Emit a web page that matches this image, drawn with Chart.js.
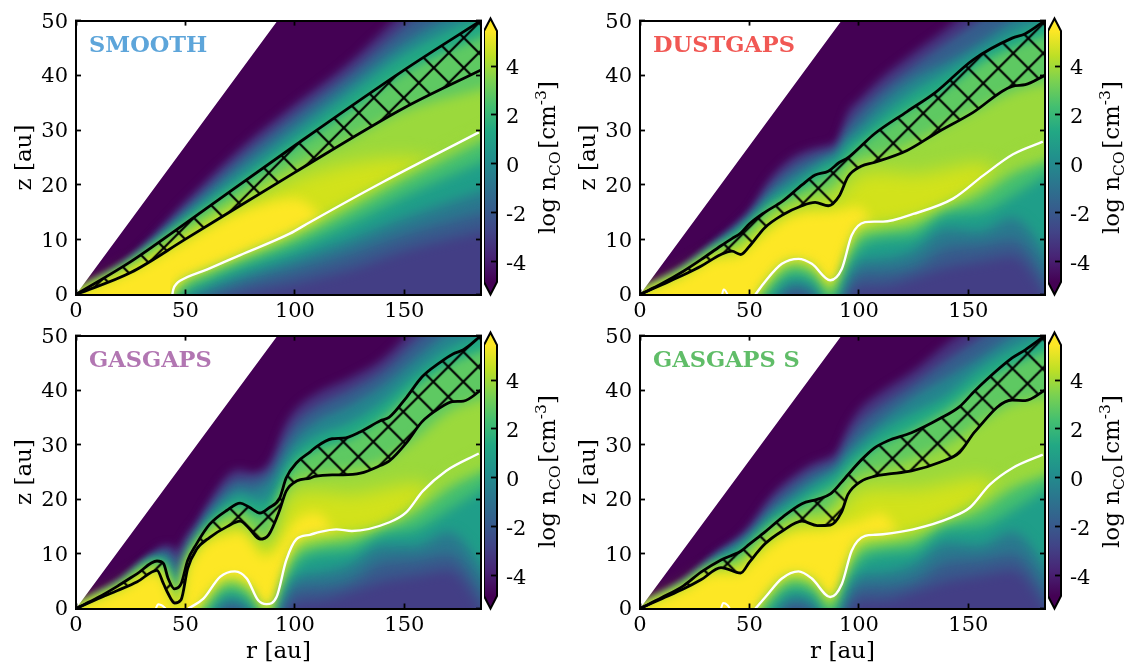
<!DOCTYPE html>
<html>
<head>
<meta charset="utf-8">
<title>CO number density</title>
<script src="https://cdn.jsdelivr.net/npm/chart.js@4"></script>
<style>
  html, body { margin: 0; padding: 0; background: #fff; }
  #page { position: relative; width: 1128px; height: 666px; overflow: hidden; }
  canvas { position: absolute; }
</style>
</head>
<body>
<div id="page"></div>
<script>
// axes
const xTicks = [0, 50, 100, 150];
const zTicks = [0, 10, 20, 30, 40, 50];
const cbTicks = [-4, -2, 0, 2, 4];
const cbRange = [-4.82, 5.43];

// disc surface, white above it
const wedgeR = [0, 130];
const wedgeZ = [0, 70.6];

// SMOOTH: contour heights, upper side of the CO layer then lower side
const smoothUpperR = [0, 25, 50, 75, 100, 125, 150, 190];
const smoothUpper = [
  [0, 6.6, 17, 26.7, 34.8, 42.5, 52, 66],
  [0, 6.4, 15.8, 25, 33, 40.5, 49, 61],
  [0, 6.2, 14.8, 23.3, 31, 38.5, 46, 55],
  [0, 6, 14.1, 21.5, 29, 36.5, 43.8, 52],
  [0, 5.7, 13, 19.8, 26.8, 33.5, 40.5, 48],
  [0, 5, 11.3, 17.5, 23.5, 28.5, 33.5, 38],
  [0, 4.5, 10.2, 15.8, 21, 24, 25, 20],
  [0, 4, 9.6, 15, 17.5, 8, -2, -2]
];
const smoothLowerR = [43, 47, 50, 60, 75, 100, 125, 150, 190];
const smoothLower = [
  [-1, 2.2, 2.9, 4.6, 7.2, 11.5, 17, 22.5, 31],
  [-2, 0.3, 1.7, 3.6, 6, 10.2, 15.5, 21, 29],
  [-3, -1, 0.3, 2.3, 5, 8.5, 13, 18, 25],
  [-4, -2, -1, 1, 3.3, 6.5, 10, 14, 19.5],
  [-5, -3, -2.5, -0.5, 1.8, 4.5, 7.5, 11, 15.5],
  [-6, -5, -4, -2, 0, 2, 4.5, 8, 12]
];
const smoothHatchR = [0, 25, 50, 100, 150, 185];
const smoothHatchTop = [0, 6, 13, 27.2, 41, 50];
const smoothHatchLow = [0, 4, 10.1, 22.3, 34.1, 41];
const smoothWhiteR = [44, 44.5, 46, 47.5, 60, 75, 97.6, 106.8, 140, 184];
const smoothWhiteZ = [0, 1, 2, 2.5, 4.6, 7.2, 11.1, 13.2, 20.5, 29.6];

// DUSTGAPS
const gapUpperR = [0, 20, 35, 45, 50, 60, 70, 80, 85, 90, 95, 100, 110, 125, 140, 155, 170, 190];
const dustUpper = [
  [0, 5, 9.8, 13.2, 15.3, 21.5, 25.2, 26.8, 27.2, 28.2, 33.5, 35.6, 39.5, 44.2, 48.6, 54, 60, 68],
  [0, 4.7, 9.4, 12.6, 14.5, 20, 23.5, 25.5, 26, 27, 31, 33.5, 37.3, 41.8, 46, 50, 54, 60],
  [0, 4.5, 9.2, 12.2, 14, 18.5, 21.7, 24, 25, 26, 29, 31, 35, 39.5, 42.5, 46, 50, 55],
  [0, 4.4, 9, 11.8, 13.6, 17.4, 20, 22.8, 24, 25, 27.5, 29, 32.5, 37, 40.5, 44, 47.5, 51],
  [0, 4.1, 8.4, 10.8, 12.5, 16, 18.2, 21, 22, 23, 25, 27, 30, 34.2, 37.5, 42, 45, 48],
  [0, 3.8, 7.7, 9, 10.5, 14.5, 16.8, 18.5, 19, 20, 23, 24.5, 25.5, 28, 31, 34, 37, 39],
  [0, 3.5, 6.9, 7.8, 9.2, 12.8, 15.2, 16.2, 16.2, 17.5, 20, 21.8, 22.5, 22, 23, 24, 20, 15],
  [0, 3.3, 6.5, 7, 8.5, 12, 14.3, 15, 15, 15.3, 15.7, 16, 10, 6, -2, -2, -2, -2]
];
const dustHatchR = [0, 10, 20, 28, 37, 42, 46, 50, 57, 65, 74, 80, 86, 91, 95, 101, 107, 122, 135, 152, 170, 176, 185];
const dustHatchTop = [0, 2, 4.3, 6.4, 8.9, 10.2, 11.2, 12.9, 15, 17, 20, 21.8, 22.5, 24.1, 25, 27.1, 29.3, 33.4, 36.9, 42.8, 46.8, 47.6, 50];
const dustHatchLow = [0, 1.8, 3.6, 5.2, 7.3, 7.9, 7.3, 8.8, 12.2, 14.5, 16.2, 16.8, 16.2, 18, 21.5, 23.4, 24.1, 26.3, 29.4, 33.2, 38, 38.3, 40];
const dustWhiteR = [52.7, 57, 64.8, 72.4, 78.5, 86.9, 92.2, 96.7, 102.8, 107, 111, 124.8, 143, 156.7, 170.4, 184];
const dustWhiteZ = [0, 2.3, 5.6, 6.5, 5.6, 2.6, 4.7, 10.8, 13.2, 13.3, 13.3, 14.7, 17.5, 21.7, 25.6, 27.9];
const dustBlobR = [37.5, 38.2, 39, 40];
const dustBlobZ = [0, 0.9, 0.7, 0];

// lower contours, nearly the same in DUSTGAPS and GASGAPS S
const gapLowerR = [48, 60, 70, 80, 85, 90, 95, 100, 110, 125, 140, 155, 170, 190];
const gapLower = [
  [-4, 3.6, 6.3, 4.9, 2.2, 3, 8.3, 12.4, 13.3, 14.4, 16.8, 20.5, 25.3, 28.5],
  [-5, 1.8, 5, 3.4, 0.5, 1.2, 6.2, 10.3, 11.5, 12.5, 15.5, 18, 22, 25],
  [-6, 0.4, 3.6, 1.9, -1.4, -0.6, 4.6, 8.2, 10, 10.5, 14.5, 15, 18, 23],
  [-7, -1.8, 2, 0.4, -3.4, -2.6, 2.6, 6, 6.5, 8, 12, 11.5, 14, 5],
  [-8, -4, 0.8, -1.2, -5.6, -4.8, 0.8, 3.8, 4, 5, 8.5, 9, 10, 0.5],
  [-9, -6, -0.8, -3.4, -8, -7, -1.2, 1.4, 1.5, 3, 5, 6, 7, -3]
];

// GASGAPS
const gasUpperR = [0, 20, 37, 41, 43, 46, 48, 51, 55, 60, 70, 75, 80, 85, 90, 95, 100, 110, 125, 140, 155, 170, 190];
const gasUpper = [
  [0, 5, 10.8, 11.6, 11.6, 10.7, 11.7, 13.8, 15.8, 19.2, 24.8, 25.5, 25, 25.4, 28, 33.3, 36.4, 39.5, 42.3, 45.8, 52, 59, 67],
  [0, 4.7, 10.1, 10.8, 10.3, 9, 9.8, 12.3, 14.6, 17.8, 23, 23.8, 23.8, 24.3, 26, 30.5, 33.8, 37, 40, 43.5, 49, 54, 60],
  [0, 4.5, 9.7, 9.8, 8.4, 6.8, 7.5, 10.8, 13.6, 16.8, 21.2, 22.2, 21.8, 22.5, 24.3, 28, 31, 34.3, 37.2, 40.8, 45.8, 50.5, 55],
  [0, 4.4, 9.2, 9, 7, 5, 5.5, 9.6, 12.8, 15.9, 19.7, 20.6, 20, 19.6, 21.5, 25.6, 28.6, 31.6, 34, 37.8, 43, 47.5, 51],
  [0, 4.1, 8.5, 7.8, 5.3, 3.5, 4, 8.2, 11.8, 14.7, 18.2, 18.6, 17.5, 17, 18.6, 23, 26.4, 29, 31, 35, 40.5, 44.5, 48],
  [0, 3.7, 7.5, 5.5, 3, 1, 1.5, 7.5, 10.8, 13.5, 16, 16.5, 14.5, 13, 14, 20, 23.5, 24.6, 25.5, 27, 31, 36, 39],
  [0, 3.4, 7, 4.5, 2, 0, 0.5, 7, 10.2, 12.6, 14.8, 15.4, 13, 11.2, 11.5, 18, 21, 21.5, 21, 22, 23, 19, 14],
  [0, 3.2, 6.6, 4, 1.5, -1, -0.5, 6.6, 9.8, 12, 13.5, 14, 12, 9.5, 10, 13, 16, 17.5, 8, -2, -2, -2, -2]
];
const gasLower = [
  [-5, 2.2, 5.6, 3.8, 0.6, 1, 6.5, 11.5, 13.5, 14, 15.3, 19.5, 25, 29],
  [-6, 0.4, 4.4, 2.2, -1.2, -1, 4.5, 9.5, 11.5, 12.5, 14.5, 17.5, 22, 26],
  [-7, -1, 3, 0.7, -3, -3, 3, 7.5, 10, 10.5, 13.5, 14.5, 18, 23],
  [-8, -3, 1.6, -0.8, -5, -5, 1.4, 5.5, 6.5, 8, 11.5, 11.5, 14, 5],
  [-9, -5, 0.4, -2.2, -7, -7, 0, 3.5, 4, 5, 8.5, 9, 10, 0.5],
  [-10, -7, -1, -4, -9, -9, -2, 1, 1.5, 3, 5, 6, 7, -3]
];
const gasHatchR = [0, 10, 19, 28, 37, 40, 42, 45, 48, 51, 55, 61, 69, 75, 79, 84, 88, 93, 96, 101, 107, 109, 117, 122, 130, 139, 143, 151, 158, 166, 172, 177, 185];
const gasHatchTop = [0, 2, 4.1, 6.4, 8.7, 8.2, 5.6, 3.6, 4.5, 8.8, 11.8, 15.4, 18, 19.3, 18.6, 17.5, 18.4, 20.2, 23.9, 26.8, 28.7, 29.4, 31.1, 31.2, 32.4, 34.4, 35, 38.7, 42.4, 45, 46.6, 47.4, 50];
const gasHatchLow = [0, 1.8, 3.3, 4.9, 7, 4.5, 2.8, 1, 1.6, 7.3, 10.8, 13, 15, 16, 14.7, 12.7, 13.5, 18, 21.5, 23.4, 23.9, 24.2, 24.5, 24.5, 24.8, 26.2, 27, 30.4, 34.2, 36.7, 37.9, 38, 40];
const gasWhiteR = [51.3, 58.2, 65.8, 72.6, 78, 83.2, 87, 91.6, 96, 100.7, 106.8, 111, 119, 126, 143.2, 150.8, 158.4, 169, 184];
const gasWhiteZ = [0, 1.8, 5.8, 6.8, 5.5, 1.5, 0.8, 2.1, 8.8, 12.7, 13.5, 14, 14.5, 14.2, 15.8, 17.6, 21.5, 25.2, 28.4];
const gasBlobR = [36.5, 37.5, 39, 41];
const gasBlobZ = [0, 0.8, 0.6, 0];

// GASGAPS S
const gasSUpper = [
  [0, 5, 10.2, 13.1, 15.2, 20.7, 24.3, 26.8, 27.5, 28.8, 33.3, 36.4, 39.7, 43.6, 48.5, 53, 60, 68],
  [0, 4.7, 9.8, 12.5, 14.2, 19.3, 22.8, 25.4, 26.2, 27.3, 31, 33.8, 37.2, 41.2, 45.5, 49.5, 54, 60],
  [0, 4.5, 9.3, 11.8, 13.4, 17.7, 21, 23.8, 24.8, 26, 28.8, 31, 34.5, 38.8, 42.3, 46, 50, 55],
  [0, 4.4, 9, 11.2, 12.8, 16.8, 19.7, 22.4, 23.6, 24.9, 27.3, 29.1, 32.4, 35.8, 39, 43.8, 47.5, 51],
  [0, 4.1, 8.2, 9.8, 11.5, 15.3, 17.8, 20.5, 21.5, 22.8, 25, 27, 29.8, 33, 36.5, 41, 44.5, 48],
  [0, 3.8, 7.4, 7.9, 9.6, 13.8, 16.2, 17.5, 17.8, 19.5, 22.5, 24.2, 25.5, 27.5, 30, 34, 37.5, 39],
  [0, 3.5, 6.8, 7, 8.8, 12.4, 14.8, 15.5, 15.5, 17, 19.5, 21.5, 22, 22, 23, 24, 20, 15],
  [0, 3.3, 6.4, 6.3, 8, 11.6, 13.8, 14.2, 14.3, 15, 15.5, 16, 17.5, 8, -2, -2, -2, -2]
];
const gasSHatchR = [0, 10, 20, 28, 37, 46, 50, 57, 65, 74, 81, 87, 92, 95, 101, 107, 113, 124, 137, 146, 153, 170, 176, 185];
const gasSHatchTop = [0, 2, 4.2, 6.7, 8.9, 10.5, 11.8, 14, 16.7, 19.2, 20, 21, 23.1, 24.5, 27.2, 29.4, 30.7, 32.2, 34.8, 37, 39.9, 45.9, 47.4, 50];
const gasSHatchLow = [0, 1.8, 3.6, 5.3, 7.5, 6.5, 8.5, 11.8, 14.2, 16, 15.2, 15.3, 17.6, 20.9, 23.3, 24.2, 24.6, 25.2, 26.8, 28.6, 32.4, 38.2, 38.1, 40];
const gasSWhiteR = [52.7, 57.3, 64.8, 72.4, 78.5, 86.9, 92.2, 96.7, 102.8, 107.4, 111, 124.8, 142.3, 150.7, 159.8, 170.4, 184];
const gasSWhiteZ = [0, 2.1, 5.5, 6.8, 5.5, 2.1, 4.5, 10.6, 13.3, 13.5, 13.6, 14.5, 16.7, 18.5, 22.7, 25.8, 28.2];
const gasSBlobR = [37, 38, 40, 41];
const gasSBlobZ = [0, 1, 0.6, 0];

// colours of the contour bands (viridis)
const baseColor = "#440154";
const upperColors = ["#46337e", "#355f8d", "#25858e", "#22a884", "#5ec962", "#9bd93c", "#d2e21b", "#fde725"];
const lowerColors = ["#9bd93c", "#44bf70", "#1f9e89", "#2a788e", "#385a8c", "#433e85"];
const viridisStops = ["#440154", "#482475", "#414487", "#355f8d", "#2a788e", "#21918c", "#22a884", "#44bf70", "#7ad151", "#bddf26", "#fde725"];
// blur in px per band, thin outer bands less
const upperBlur = [4, 4, 4, 4, 4, 6, 9, 6];
const lowerBlur = 6;

const FONT = "'DejaVu Serif'";
Chart.defaults.font.family = FONT;
Chart.defaults.font.size = 21;
Chart.defaults.color = "#000";
Chart.defaults.animation = false;

const page = document.getElementById("page");

function addCanvas(left, top, w, h) {
  const c = document.createElement("canvas");
  c.width = w;
  c.height = h;
  c.style.left = left + "px";
  c.style.top = top + "px";
  c.style.width = w + "px";
  c.style.height = h + "px";
  page.appendChild(c);
  return c;
}

const toXY = (rs, zs) => rs.map((r, i) => ({ x: r, y: zs[i] }));

// cross hatch tile; the phase is given in page pixels
function hatchPattern(ctx, phase, left, top) {
  const tile = document.createElement("canvas");
  tile.width = tile.height = 30;
  const t = tile.getContext("2d");
  t.strokeStyle = "#000";
  t.lineWidth = 2.2;
  t.beginPath();
  t.moveTo(-5, -5);
  t.lineTo(35, 35);
  t.moveTo(35, -5);
  t.lineTo(-5, 35);
  t.stroke();
  const p = ctx.createPattern(tile, "repeat");
  p.setTransform(new DOMMatrix().translate(phase[0] - left, phase[1] - top));
  return p;
}

function tickGrid(len) {
  return { drawOnChartArea: false, drawTicks: true, tickLength: len, tickWidth: 1.8, tickColor: "#000", z: 1 };
}
const spine = { width: 2, color: "#000", z: 2 };

function setTicks(vals) {
  return s => { s.ticks = vals.map(v => ({ value: v })); };
}

// blur only the contour bands, they are painted first
const bandBlur = {
  id: "bandBlur",
  beforeDatasetsDraw(chart, args, opts) {
    chart.ctx.filter = "blur(" + opts.blur[chart.data.datasets.length - 1] + "px)";
  },
  afterDatasetDraw(chart, args, opts) {
    const next = opts.blur[args.index - 1];
    chart.ctx.filter = next ? "blur(" + next + "px)" : "none";
  }
};

const panelLabel = {
  id: "panelLabel",
  afterDraw(chart, args, opts) {
    const ctx = chart.ctx;
    ctx.save();
    ctx.font = "bold 22.5px " + FONT;
    ctx.fillStyle = opts.color;
    ctx.textBaseline = "middle";
    ctx.fillText(opts.text, chart.chartArea.left + 13, chart.chartArea.top + 26);
    ctx.restore();
  }
};

function drawPanel(p) {
  const W = 490, H = 356;
  const canvas = addCanvas(p.left, p.top, W, H);
  const ctx = canvas.getContext("2d");
  const datasets = [];
  const blur = [];
  const line = (rs, zs, extra, px) => {
    datasets.push(Object.assign({
      data: toXY(rs, zs), pointRadius: 0, borderWidth: 0, fill: false, cubicInterpolationMode: "monotone"
    }, extra));
    blur.push(px || 0);
  };

  if (p.blobR) line(p.blobR, p.blobZ, { borderColor: "#fff", borderWidth: 2 });
  line(p.whiteR, p.whiteZ, { borderColor: "#fff", borderWidth: 2.4 });
  line(p.hatchR, p.hatchTop, {
    borderColor: "#000", borderWidth: 2.8, fill: "+1",
    backgroundColor: hatchPattern(ctx, p.phase, p.left, p.top)
  });
  line(p.hatchR, p.hatchLow, { borderColor: "#000", borderWidth: 2.8 });
  line(wedgeR, wedgeZ, { fill: "end", backgroundColor: "#fff", cubicInterpolationMode: "default" });

  // last in the list is painted first, so the top band goes last
  for (let i = p.lower.length - 1; i >= 0; i--) {
    line(p.lowerR, p.lower[i], { fill: { value: -20 }, backgroundColor: lowerColors[i] }, lowerBlur);
  }
  for (let i = p.upper.length - 1; i >= 0; i--) {
    line(p.upperR, p.upper[i], { fill: { value: -20 }, backgroundColor: upperColors[i] }, upperBlur[i]);
  }
  line([-10, 200], [80, 80], { fill: { value: -20 }, backgroundColor: baseColor, cubicInterpolationMode: "default" });

  new Chart(canvas, {
    type: "line",
    data: { datasets },
    plugins: [bandBlur, panelLabel],
    options: {
      responsive: false,
      parsing: { xAxisKey: "x", yAxisKey: "y" },
      layout: { padding: { top: 0, right: 9, left: 0, bottom: 0 } },
      plugins: {
        legend: { display: false },
        tooltip: { enabled: false },
        bandBlur: { blur: blur },
        panelLabel: { text: p.name, color: p.color }
      },
      scales: {
        x: {
          type: "linear", position: "bottom", min: 0, max: 185,
          afterBuildTicks: setTicks(xTicks),
          afterFit: s => { s.height = H - p.bottom; },
          grid: tickGrid(-5), border: spine,
          ticks: { z: 1, padding: 9, maxRotation: 0, autoSkip: false },
          title: { display: p.showR, text: "r [au]", padding: 0, font: { size: 23 } }
        },
        y: {
          type: "linear", position: "left", min: 0, max: 50,
          afterBuildTicks: setTicks(zTicks),
          afterFit: s => { s.width = 76; },
          grid: tickGrid(-5), border: spine,
          ticks: { z: 1, padding: 13, autoSkip: false, labelOffset: 1.5 },
          title: { display: true, text: "z [au]", padding: { top: 11, bottom: 0 }, font: { size: 23 } }
        },
        xTop: {
          type: "linear", position: "top", axis: "x", min: 0, max: 185,
          afterBuildTicks: setTicks(xTicks),
          afterFit: s => { s.height = 0; },
          grid: tickGrid(-5), border: spine,
          ticks: { display: false }
        },
        yRight: {
          type: "linear", position: "right", axis: "y", min: 0, max: 50,
          afterBuildTicks: setTicks(zTicks),
          afterFit: s => { s.width = 0; },
          grid: tickGrid(-5), border: spine,
          ticks: { display: false }
        }
      }
    }
  });
}

// outline, end triangles and label of a colour bar
const cbExtras = {
  id: "cbExtras",
  afterDraw(chart) {
    const ctx = chart.ctx;
    const a = chart.chartArea;
    const mid = (a.left + a.right) / 2;
    const tip = 12.5;
    ctx.save();
    ctx.fillStyle = viridisStops[10];
    ctx.beginPath();
    ctx.moveTo(a.left, a.top);
    ctx.lineTo(mid, a.top - tip);
    ctx.lineTo(a.right, a.top);
    ctx.closePath();
    ctx.fill();
    ctx.fillStyle = viridisStops[0];
    ctx.beginPath();
    ctx.moveTo(a.left, a.bottom);
    ctx.lineTo(mid, a.bottom + tip);
    ctx.lineTo(a.right, a.bottom);
    ctx.closePath();
    ctx.fill();
    ctx.strokeStyle = "#000";
    ctx.lineWidth = 2;
    ctx.beginPath();
    ctx.moveTo(a.left, a.top);
    ctx.lineTo(mid, a.top - tip);
    ctx.lineTo(a.right, a.top);
    ctx.lineTo(a.right, a.bottom);
    ctx.lineTo(mid, a.bottom + tip);
    ctx.lineTo(a.left, a.bottom);
    ctx.closePath();
    ctx.stroke();

    // label, rotated, with sub and superscript
    const parts = [
      ["log n", 23, 0], ["CO", 15.5, 4.5], [" ", 8, 0], ["[cm", 23, 0], ["-3", 15.5, -9], ["]", 23, 0]
    ];
    ctx.translate(a.right + 58, a.bottom - 48);
    ctx.rotate(-Math.PI / 2);
    ctx.fillStyle = "#000";
    ctx.textBaseline = "alphabetic";
    let x = 0;
    for (const [txt, size, dy] of parts) {
      ctx.font = size + "px " + FONT;
      ctx.fillText(txt, x, dy);
      x += ctx.measureText(txt).width;
    }
    ctx.restore();
  }
};

function drawColorbar(left, top, padTop, padBottom) {
  const canvas = addCanvas(left, top, 80, 351);
  new Chart(canvas, {
    type: "bar",
    data: {
      labels: ["n"],
      datasets: [{
        data: [cbRange],
        barPercentage: 1,
        categoryPercentage: 1,
        backgroundColor: c => {
          const a = c.chart.chartArea;
          if (!a) return viridisStops[5];
          const g = c.chart.ctx.createLinearGradient(0, a.bottom, 0, a.top);
          viridisStops.forEach((col, i) => g.addColorStop(i / (viridisStops.length - 1), col));
          return g;
        }
      }]
    },
    plugins: [cbExtras],
    options: {
      responsive: false,
      layout: { padding: { top: padTop, bottom: padBottom, left: 0, right: 0 } },
      plugins: { legend: { display: false }, tooltip: { enabled: false } },
      scales: {
        x: { display: false },
        y: {
          position: "right", min: cbRange[0], max: cbRange[1],
          afterBuildTicks: setTicks(cbTicks),
          afterFit: s => { s.width = 67; },
          grid: tickGrid(-6),
          border: { display: false },
          ticks: { z: 1, padding: 15, autoSkip: false, labelOffset: 2.5 }
        }
      }
    }
  });
}

drawPanel({
  name: "SMOOTH", color: "#5DA5DA", left: 0, top: -5, bottom: 299.5, showR: false,
  upperR: smoothUpperR, upper: smoothUpper, lowerR: smoothLowerR, lower: smoothLower,
  hatchR: smoothHatchR, hatchTop: smoothHatchTop, hatchLow: smoothHatchLow,
  whiteR: smoothWhiteR, whiteZ: smoothWhiteZ, phase: [13.8, 7.8]
});
drawPanel({
  name: "DUSTGAPS", color: "#F15854", left: 564, top: -5, bottom: 299.5, showR: false,
  upperR: gapUpperR, upper: dustUpper, lowerR: gapLowerR, lower: gapLower,
  hatchR: dustHatchR, hatchTop: dustHatchTop, hatchLow: dustHatchLow,
  whiteR: dustWhiteR, whiteZ: dustWhiteZ, blobR: dustBlobR, blobZ: dustBlobZ, phase: [8.3, 8.3]
});
drawPanel({
  name: "GASGAPS", color: "#B276B2", left: 0, top: 310, bottom: 298.5, showR: true,
  upperR: gasUpperR, upper: gasUpper, lowerR: gapLowerR, lower: gasLower,
  hatchR: gasHatchR, hatchTop: gasHatchTop, hatchLow: gasHatchLow,
  whiteR: gasWhiteR, whiteZ: gasWhiteZ, blobR: gasBlobR, blobZ: gasBlobZ, phase: [13.3, -8.3]
});
drawPanel({
  name: "GASGAPS S", color: "#60BD68", left: 564, top: 310, bottom: 298.5, showR: true,
  upperR: gapUpperR, upper: gasSUpper, lowerR: gapLowerR, lower: gapLower,
  hatchR: gasSHatchR, hatchTop: gasSHatchTop, hatchLow: gasSHatchLow,
  whiteR: gasSWhiteR, whiteZ: gasSWhiteZ, blobR: gasSBlobR, blobZ: gasSBlobZ, phase: [7.5, -6.5]
});

drawColorbar(484, 0, 31, 69);
drawColorbar(1048, 0, 31, 69);
drawColorbar(484, 315, 30, 70);
drawColorbar(1048, 315, 30, 70);
</script>
</body>
</html>
